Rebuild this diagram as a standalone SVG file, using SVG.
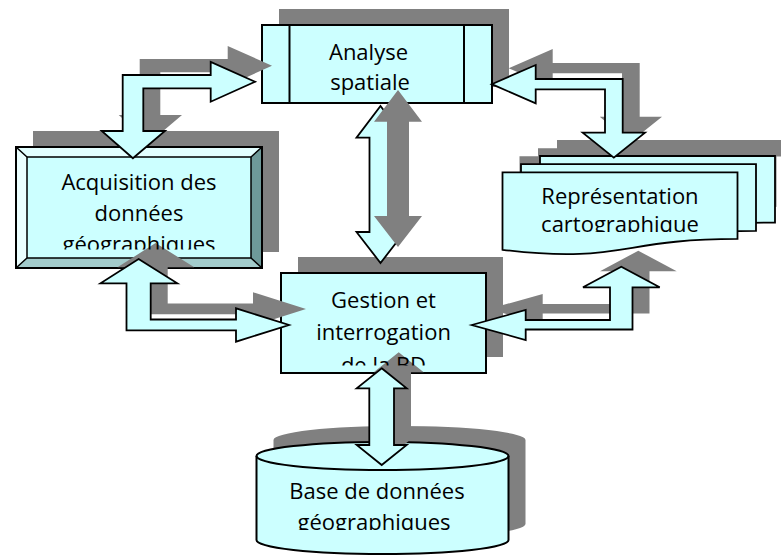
<svg xmlns="http://www.w3.org/2000/svg" xmlns:xlink="http://www.w3.org/1999/xlink" width="781" height="555" viewBox="0 0 781 555">
<style>
.box{fill:#ccffff;stroke:#000;stroke-width:2}
.sh{fill:#808080;stroke:none}
.arr{fill:#ccffff;stroke:#000;stroke-width:1.8;stroke-linejoin:miter}
.ln{fill:none;stroke:#000;stroke-width:2}
.sheet{fill:#ccffff;stroke:#000;stroke-width:1.8}
.lbl{font-family:"Open Sans","Noto Sans",sans-serif;font-size:22px;fill:#000;text-anchor:middle}
</style>
<defs>
<path id="sheet" d="M0,0 H235 V66.6 C117.5,66.6 117.5,91.9 0,77.5 Z"/>
<polygon id="arrA" points="132.9,158.3 165,131 143.3,131 143.3,88.3 210.7,88.3 210.7,101.7 255,81.7 210.7,62 210.7,75 122.7,75 122.7,131 101.7,131"/>
<polygon id="arrB" points="491.7,84.2 535.7,65 535.7,79 622.7,79 622.7,132.7 645,132.7 613.8,157.7 582.7,132.7 605,132.7 605,89.3 535.7,89.3 535.7,103.3"/>
<polygon id="arrC" points="138.6,259 177.3,283.3 150.7,283.3 150.7,319.5 236,319.5 236,308.3 289,325 236,341.7 236,330.3 126.5,330.3 126.5,283.3 100.5,283.3"/>
<polygon id="arrD" points="471.7,325 525.7,310 525.7,320 610,320 610,287.3 583,287.3 621.3,266.7 659.7,287.3 632.5,287.3 632.5,329.5 525.7,329.5 525.7,340"/>
<polygon id="arrE" points="380.5,106 404.5,137.7 391.5,137.7 391.5,232 404.5,232 380.5,263 356.5,232 369.5,232 369.5,137.7 356.5,137.7"/>
<polygon id="arrF" points="381.7,368.3 406.7,388.3 394,388.3 394,445 406.7,445 381.7,465 356.7,445 369.3,445 369.3,388.3 356.7,388.3"/>
<clipPath id="cAcq"><rect x="27" y="157" width="224" height="92.5"/></clipPath>
<clipPath id="cRep"><rect x="502" y="172" width="236" height="60"/></clipPath>
<clipPath id="cGes"><rect x="281" y="273" width="205" height="92.5"/></clipPath>
<clipPath id="cBd"><rect x="256" y="470" width="253" height="60"/></clipPath>
<clipPath id="cRepSh"><path d="M0,0 H781 V156.5 H776.5 V555 H0 Z"/></clipPath>
</defs>

<g id="node-analyse">
<rect class="sh" x="279" y="9" width="230" height="78"/>
<rect class="box" x="262" y="25" width="230" height="78"/>
<line class="ln" x1="289.5" y1="25" x2="289.5" y2="103"/>
<line class="ln" x1="464" y1="25" x2="464" y2="103"/>
</g>

<g id="node-acquisition">
<rect class="sh" x="33" y="131" width="246" height="121"/>
<rect x="27" y="157" width="224" height="101" fill="#ccffff"/>
<polygon points="16,147 262,147 251,157 27,157" fill="#e3ffff"/>
<polygon points="16,147 27,157 27,258 16,268" fill="#ebffff"/>
<polygon points="262,147 262,268 251,258 251,157" fill="#6e9999"/>
<polygon points="16,268 262,268 251,258 27,258" fill="#a3cccc"/>
<rect x="16" y="147" width="246" height="121" fill="none" stroke="#000" stroke-width="2"/>
<rect x="27" y="157" width="224" height="101" fill="none" stroke="#000" stroke-width="1.5"/>
<path d="M16,147 L27,157 M262,147 L251,157 M16,268 L27,258 M262,268 L251,258" stroke="#000" stroke-width="1.5"/>
</g>

<g id="node-representation">
<g clip-path="url(#cRepSh)">
<use href="#sheet" xlink:href="#sheet" class="sh" transform="translate(557,140)"/>
<use href="#sheet" xlink:href="#sheet" class="sh" transform="translate(538,148.2)"/>
<use href="#sheet" xlink:href="#sheet" class="sh" transform="translate(519.5,156.3)"/>
</g>
<use href="#sheet" xlink:href="#sheet" class="sheet" transform="translate(540,156)"/>
<use href="#sheet" xlink:href="#sheet" class="sheet" transform="translate(521,164.2)"/>
<use href="#sheet" xlink:href="#sheet" class="sheet" transform="translate(502.5,172.3)"/>
</g>

<g id="node-gestion">
<rect class="sh" x="298" y="257" width="205" height="100"/>
<rect class="box" x="281" y="273" width="205" height="100"/>
</g>

<g id="node-bd">
<path class="sh" d="M273.5,440 A126,14 0 0,1 525.5,440 V524 A126,14 0 0,1 273.5,524 Z"/>
<path class="box" d="M256.5,456 A126,14 0 0,1 508.5,456 V540 A126,14 0 0,1 256.5,540 Z"/>
<path class="ln" d="M256.5,456 A126,14 0 0,0 508.5,456"/>
</g>

<g id="connectors">
<use href="#arrA" xlink:href="#arrA" class="sh" transform="translate(17,-16)"/>
<use href="#arrA" xlink:href="#arrA" class="arr"/>
<use href="#arrB" xlink:href="#arrB" class="sh" transform="translate(17,-16)"/>
<use href="#arrB" xlink:href="#arrB" class="arr"/>
<use href="#arrC" xlink:href="#arrC" class="sh" transform="translate(17,-16)"/>
<use href="#arrC" xlink:href="#arrC" class="arr"/>
<use href="#arrD" xlink:href="#arrD" class="sh" transform="translate(17,-16)"/>
<use href="#arrD" xlink:href="#arrD" class="arr"/>
<use href="#arrE" xlink:href="#arrE" class="arr"/>
<use href="#arrE" xlink:href="#arrE" class="sh" transform="translate(17.5,-16)"/>
<use href="#arrF" xlink:href="#arrF" class="sh" transform="translate(17,-16)"/>
<use href="#arrF" xlink:href="#arrF" class="arr"/>
</g>

<g id="labels">
<g id="label-analyse">
<text class="lbl" x="368.5" y="59.5">Analyse</text>
<text class="lbl" x="370" y="90">spatiale</text>
</g>
<g id="label-acquisition" clip-path="url(#cAcq)">
<text class="lbl" x="139" y="190">Acquisition des</text>
<text class="lbl" x="139" y="221">données</text>
<text class="lbl" x="139" y="252">géographiques</text>
</g>
<g id="label-representation" clip-path="url(#cRep)">
<text class="lbl" x="620" y="203.5">Représentation</text>
<text class="lbl" x="620" y="232">cartographique</text>
</g>
<g id="label-gestion" clip-path="url(#cGes)">
<text class="lbl" x="383.5" y="307.5">Gestion et</text>
<text class="lbl" x="383.5" y="340">interrogation</text>
<text class="lbl" x="383.5" y="372.5">de la BD</text>
</g>
<g id="label-bd" clip-path="url(#cBd)">
<text class="lbl" x="377" y="498.5">Base de données</text>
<text class="lbl" x="374" y="529.5">géographiques</text>
</g>
</g>
</svg>
